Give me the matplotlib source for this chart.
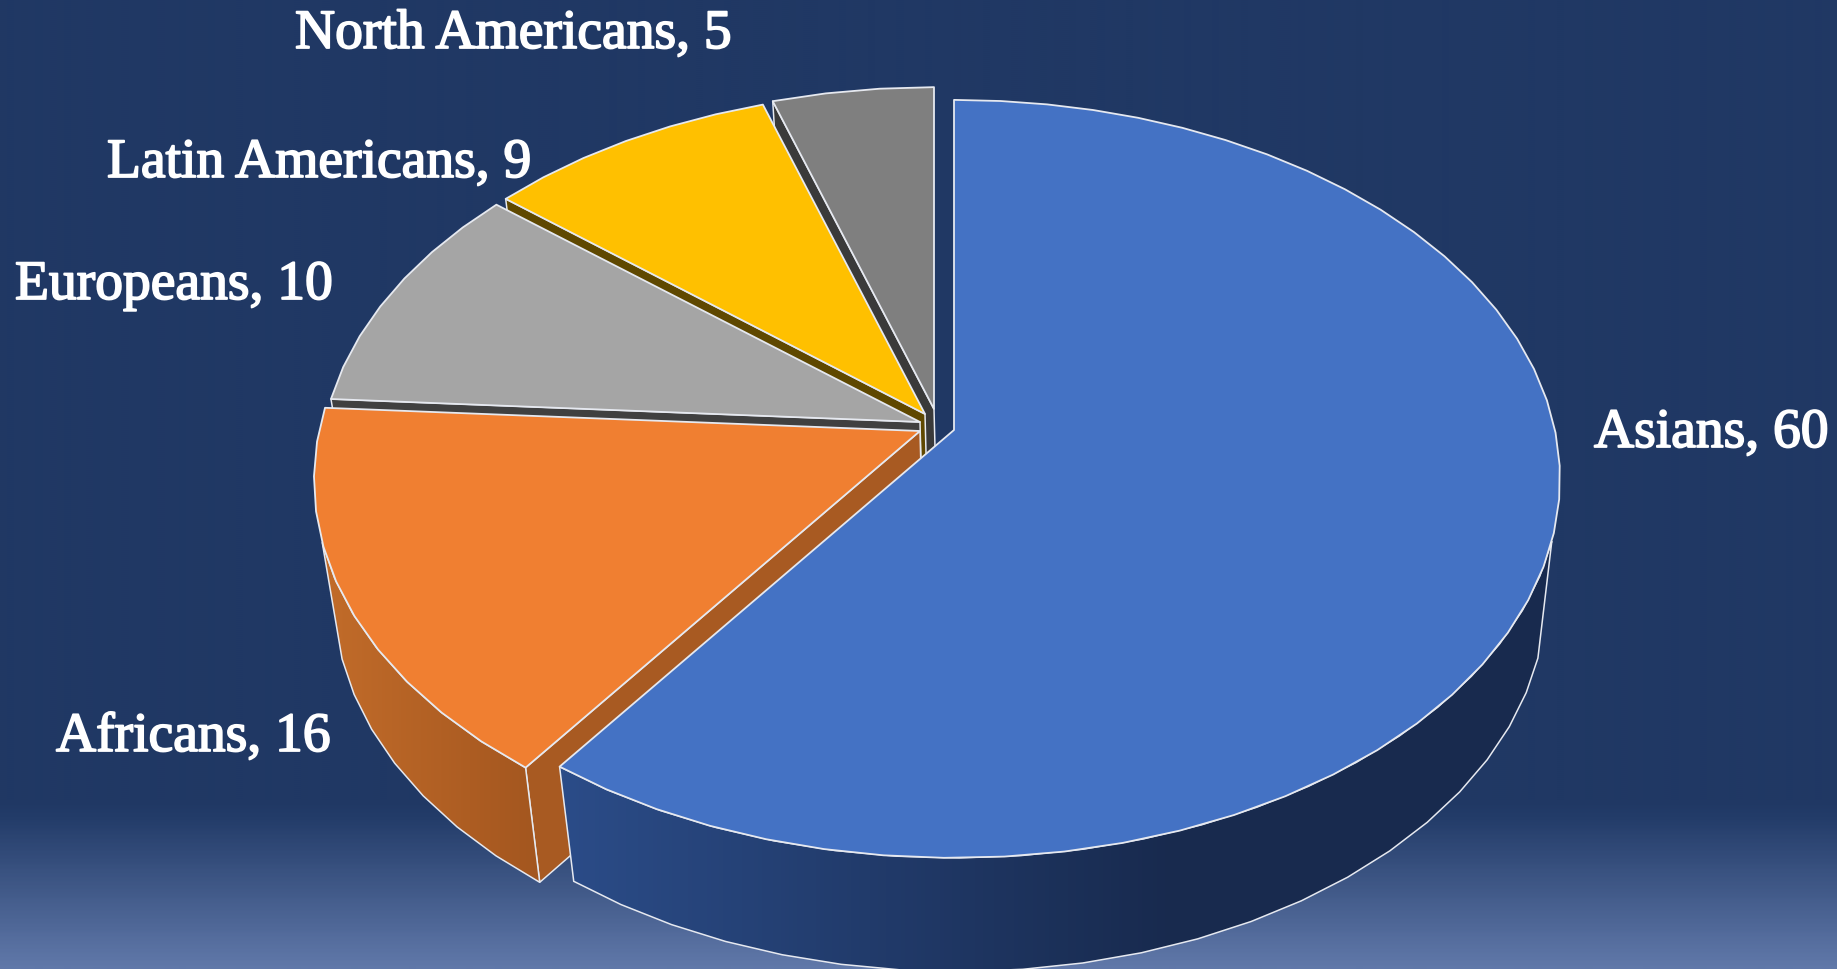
import numpy as np
import matplotlib
matplotlib.use("Agg")
import matplotlib.pyplot as plt
import matplotlib.patheffects as pe
from matplotlib.colors import LinearSegmentedColormap
from matplotlib.patches import Polygon

# ---- data
categories = ["Asians", "Africans", "Europeans", "Latin Americans", "North Americans"]
values = [60, 16, 10, 9, 5]

# ---- style
top_colors = ["#4472C4", "#F07F31", "#A5A5A5", "#FFC000", "#7F7F7F"]
face_colors = ["#2A4A85", "#A85A22", "#404040", "#5F4800", "#3A3A3A"]
wall_left = ["#2B4C88", "#C26C2A", "#6A6A6A", "#8F6E00", "#4A4A4A"]
wall_right = ["#182A4E", "#A3561F", "#555555", "#7F6000", "#404040"]
apex_x = [954, 920, 920, 925, 934]
apex_y = [431, 432, 423, 415, 410]
depth_scale = [1.0, 1.0, 0.99, 0.98, 0.975]
label_left = [1594, 56, 15, 107, 295]
label_base = [448, 752, 300, 178, 49]

BG = "#203864"
EDGE = "#E6E9F0"
K = 0.129
R_TOP, H_TOP = 601, 372.7
R_LOW, H_LOW = 584, 369
LOW_DX, LOW_DY = 3, 118
SIL = 106.7  # silhouette angle of the rim, degrees from top

fig = plt.figure(figsize=(18.37, 9.70), dpi=100, facecolor=BG)
ax = fig.add_axes([0, 0, 1, 1])
ax.set_axis_off()

# background
bg_cmap = LinearSegmentedColormap.from_list(
    "bg", [(0, BG), (0.83, BG), (0.845, "#233C69"), (1, "#6078A9")])
ax.imshow(np.linspace(0, 1, 485)[:, None], extent=(0, 1837, 970, 0),
          cmap=bg_cmap, aspect="auto", zorder=0, interpolation="bilinear")


def project(a_deg, cx, cy, R, H):
    a = np.radians(np.asarray(a_deg, float))
    x, y = np.sin(a), np.cos(a)
    d = 1 + K * y
    return np.column_stack([cx + R * x / d, cy - H * y / d])


def arc(a0, a1, step=5.0):
    n = max(2, int(abs(a1 - a0) / step) + 1)
    return np.linspace(a0, a1, n)


def fill(pts, color, z, edge=True, lw=1.5):
    ax.add_patch(Polygon(pts, closed=True, facecolor=color,
                         edgecolor=EDGE if edge else "none",
                         linewidth=lw * 0.72, joinstyle="round", zorder=z))


bounds = np.concatenate([[0], np.cumsum(values)]) / np.sum(values) * 360
order = range(len(values) - 1, -1, -1)

for z, i in enumerate(order):
    z0 = 2 + z * 5
    a0, a1 = bounds[i], bounds[i + 1]
    s = depth_scale[i]
    cx, cy = apex_x[i], apex_y[i]
    lx, ly = cx + LOW_DX, cy + LOW_DY * s
    T = lambda a: project(a, cx, cy, R_TOP * s, H_TOP * s)
    L = lambda a: project(a, lx, ly, R_LOW * s, H_LOW * s)
    apex_up, apex_lo = np.array([[cx, cy]]), np.array([[lx, ly]])

    # radial cut face on the clockwise-first edge of the left slices
    if i > 0:
        fill(np.vstack([apex_up, T([a0]), L([a0]), apex_lo]), face_colors[i], z0)

    # rim wall, with a horizontal shading
    lo = max(a0, 180) if i > 0 else SIL
    hi = min(a1, 360 - SIL) if i > 0 else a1
    if hi > lo and (i == 0 or a0 < 360 - SIL):
        ang = arc(lo, hi)
        wall = np.vstack([T(ang), L(ang)[::-1]])
        patch = Polygon(wall, closed=True, facecolor="none", edgecolor=EDGE,
                        linewidth=1.1, zorder=z0 + 2)
        ax.add_patch(patch)
        cmap = LinearSegmentedColormap.from_list("w", [wall_left[i], wall_right[i]])
        x0, x1 = wall[:, 0].min(), wall[:, 0].max()
        if i == 0:
            x1 = x0 + 0.62 * (x1 - x0)
            ext_r = wall[:, 0].max()
            grad = np.clip(np.linspace(0, (ext_r - x0) / (x1 - x0), 256), 0, 1)
            x1 = ext_r
        else:
            grad = np.linspace(0, 1, 256)
        im = ax.imshow(grad[None, :], extent=(x0, x1, wall[:, 1].max(), wall[:, 1].min()),
                       cmap=cmap, vmin=0, vmax=1, aspect="auto", zorder=z0 + 1)
        clip = Polygon(wall, closed=True, transform=ax.transData)
        im.set_clip_path(clip)

    # top surface
    fill(np.vstack([apex_up, T(arc(a0, a1))]), top_colors[i], z0 + 3, lw=1.8)

ax.set_xlim(0, 1837)
ax.set_ylim(970, 0)

for c, v, lx_, ly_ in zip(categories, values, label_left, label_base):
    ax.text(lx_, ly_, f"{c}, {v}", color="white", family="Liberation Serif",
            fontsize=40, ha="left", va="baseline", zorder=50,
            path_effects=[pe.withStroke(linewidth=1.3, foreground="white")])

fig.savefig("out.png", dpi=100, facecolor=BG)
